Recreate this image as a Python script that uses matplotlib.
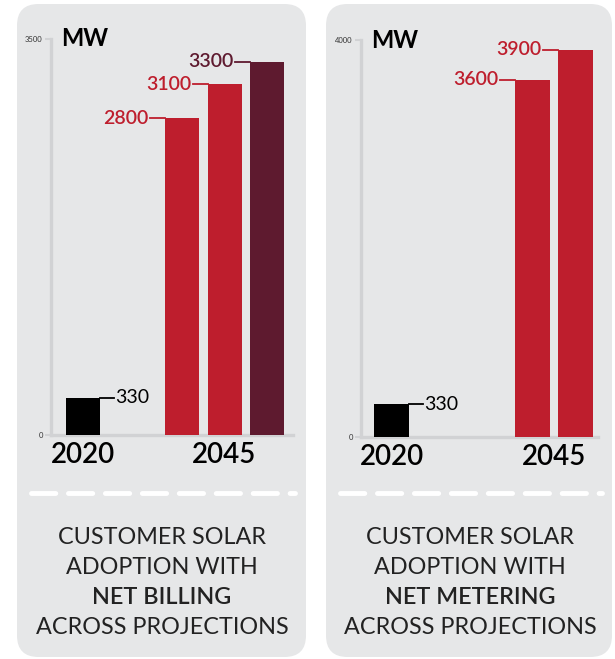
import matplotlib.pyplot as plt
from matplotlib.patches import FancyBboxPatch
from matplotlib.lines import Line2D

# data
years = ["2020", "2045"]
billing_2020 = 330
billing_2045 = [2800, 3100, 3300]
billing_ymax = 3500
metering_2020 = 330
metering_2045 = [3600, 3900]
metering_ymax = 4000
titles = [
    ("CUSTOMER SOLAR", "ADOPTION WITH", "NET BILLING", "ACROSS PROJECTIONS"),
    ("CUSTOMER SOLAR", "ADOPTION WITH", "NET METERING", "ACROSS PROJECTIONS"),
]

RED = "#BE1E2D"
MAROON = "#5E1A2F"
PANEL = "#E6E7E8"
AXIS = "#D1D2D4"
FONT = ["Lato", "DejaVu Sans"]

W, H = 615, 659
fig = plt.figure(figsize=(W / 100, H / 100), dpi=100)
fig.patch.set_facecolor("white")


def fx(px):
    return px / W


def fy(py):
    return 1 - py / H


def panel(x0, x1, y0, y1):
    p = FancyBboxPatch((fx(x0), fy(y1)), fx(x1) - fx(x0), fy(y0) - fy(y1),
                       boxstyle="round,pad=0,rounding_size=0.035",
                       transform=fig.transFigure, facecolor=PANEL,
                       edgecolor="none", zorder=-5, mutation_aspect=W / H)
    fig.patches.append(p)


def draw_chart(rect, v2020, v2045, ymax, colors, group_off, xlim, mw_px):
    ax = fig.add_axes(rect)
    ax.set_facecolor("none")
    pos = [group_off + i for i in range(len(v2045))]
    ax.bar([0], [v2020], width=0.8, color="black", zorder=3)
    ax.bar(pos, v2045, width=0.8, color=colors, zorder=3)
    ax.set_xlim(*xlim)
    ax.set_ylim(0, ymax)
    for s in ["top", "right"]:
        ax.spines[s].set_visible(False)
    for s in ["left", "bottom"]:
        ax.spines[s].set_color(AXIS)
        ax.spines[s].set_linewidth(2.4)
    ax.set_yticks([0, ymax])
    ax.set_yticklabels(["0", str(ymax)], fontsize=5.5, color="#333333", family=FONT)
    ax.tick_params(axis="y", length=4, width=1.5, color=AXIS, pad=2)
    ax.set_xticks([0, group_off + (len(v2045) - 1) / 2])
    ax.set_xticklabels(years, fontsize=20, fontweight="semibold", family=FONT)
    ax.tick_params(axis="x", length=0, pad=5)
    # leader lines and labels
    ax.plot([0.4, 0.72], [v2020, v2020], color="black", lw=1.3, zorder=3, clip_on=False)
    ax.text(0.76, v2020, str(v2020), ha="left", va="center", fontsize=14,
            family=FONT, color="black")
    for p, v, c in zip(pos, v2045, colors):
        ax.plot([p - 0.4, p - 0.75], [v, v], color=c, lw=1.3, zorder=3, clip_on=False)
        ax.text(p - 0.79, v, str(v), ha="right", va="center", fontsize=14,
                family=FONT, fontweight="semibold", color=c)
    ax.text(mw_px / (rect[2] * W), 1.0, "MW", transform=ax.transAxes,
            fontsize=17, fontweight="bold", family=FONT, ha="left", va="center")
    return ax


panel(17, 306, 4, 657)
panel(326, 612, 4, 657)

draw_chart([fx(51), fy(435), fx(293) - fx(51), fy(39) - fy(435)],
           billing_2020, billing_2045, billing_ymax,
           [RED, RED, MAROON], 2.33, (-0.75, 4.94), 10)
draw_chart([fx(361), fy(437), fx(598) - fx(361), fy(40) - fy(437)],
           metering_2020, metering_2045, metering_ymax,
           [RED, RED], 3.28, (-0.71, 4.8), 10)

# dashed separators
for x0, x1 in [(31, 295), (340, 602)]:
    fig.add_artist(Line2D([fx(x0), fx(x1)], [fy(493), fy(493)], transform=fig.transFigure,
                          color="white", lw=3.5, dashes=(5, 2.6),
                          dash_capstyle="round"))

# captions
for cx, lines in zip([162, 470], titles):
    for i, line in enumerate(lines):
        fig.text(fx(cx), fy(537 + 30 * i), line, ha="center", va="center",
                 fontsize=16.8, family=FONT,
                 fontweight="semibold" if i == 2 else "normal", color="#222222")

fig.savefig("out.png", dpi=100)
